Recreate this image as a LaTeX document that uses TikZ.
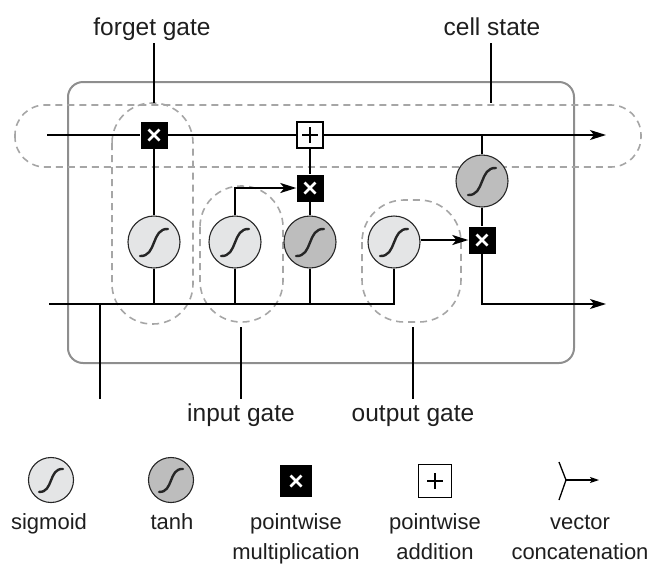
\documentclass[tikz,border=0pt]{standalone}
\usepackage{fontspec}
\setmainfont{Liberation Sans}
\usetikzlibrary{arrows.meta}
\definecolor{sigfill}{HTML}{E4E5E6}
\definecolor{tanhfill}{HTML}{BDBDBD}
\definecolor{dashgray}{HTML}{A6A6A6}
\definecolor{framegray}{HTML}{8E8E8E}
\definecolor{txt}{HTML}{1E1E1E}
\begin{document}
\begin{tikzpicture}[x=1pt,y=-1pt,
  wire/.style={line width=1.6pt, black},
  arr/.style={wire, -{Stealth[length=16pt,width=10pt,inset=4pt]}},
  smallarr/.style={line width=1.3pt, black, -{Stealth[length=9pt,width=6pt,inset=2pt]}},
  capsule/.style={draw=dashgray, line width=1.6pt, dash pattern=on 7pt off 5pt},
  sglyph/.style={path picture={
      \begin{scope}[shift={(path picture bounding box.center)}, x=#1pt, y=#1pt]
        \draw[line width=2.4pt, black!85, line cap=round] (-14,-14) .. controls (3,-15) and (-3,14) .. (14,13);
      \end{scope}}},
  sig/.style={circle, draw=black!85, line width=1.1pt, fill=sigfill, minimum size=52pt, inner sep=0pt, sglyph=1},
  tanhc/.style={sig, fill=tanhfill},
  lsig/.style={sig, minimum size=45pt, sglyph=0.85},
  ltanh/.style={lsig, fill=tanhfill},
  mul/.style={rectangle, fill=black, minimum size=27pt, inner sep=0pt, path picture={
      \draw[white, line width=2.6pt] ([shift={(-5.5pt,-5.5pt)}]path picture bounding box.center) -- ([shift={(5.5pt,5.5pt)}]path picture bounding box.center);
      \draw[white, line width=2.6pt] ([shift={(-5.5pt,5.5pt)}]path picture bounding box.center) -- ([shift={(5.5pt,-5.5pt)}]path picture bounding box.center);}},
  lmul/.style={mul, minimum size=32pt},
  plusbox/.style={rectangle, draw=black, line width=1.4pt, fill=white, minimum size=26pt, inner sep=0pt, path picture={
      \draw[black, line width=1.4pt] ([xshift=-8pt]path picture bounding box.center) -- ([xshift=8pt]path picture bounding box.center);
      \draw[black, line width=1.4pt] ([yshift=-8pt]path picture bounding box.center) -- ([yshift=8pt]path picture bounding box.center);}},
  lplus/.style={plusbox, minimum size=33pt},
  lbl/.style={font=\fontsize{24.5}{28}\selectfont, text=txt, inner sep=0pt, anchor=base},
  leg/.style={font=\fontsize{22}{26}\selectfont, text=txt, inner sep=0pt, anchor=base}
]
\useasboundingbox (0,0) rectangle (651,563);

% frame and dashed groups
\draw[framegray, line width=2pt, rounded corners=15pt] (68,82) rectangle (574,363);
\draw[capsule, rounded corners=30pt] (15,105) rectangle (641,167);
\draw[capsule, rounded corners=40pt] (112,103) rectangle (193,324);
\draw[capsule, rounded corners=41pt] (200,186) rectangle (283,322);
\draw[capsule, rounded corners=42pt] (362,200) rectangle (461,322);

% operations
\node[mul] (fx) at (154,135) {};
\node[plusbox] (pl) at (310,135) {};
\node[mul] (ix) at (310,188) {};
\node[mul] (ox) at (482,240) {};
\node[sig] (fs) at (154,242) {};
\node[sig] (is) at (235,242) {};
\node[tanhc] (it) at (310,242) {};
\node[sig] (os) at (394,242) {};
\node[tanhc] (ot) at (482,181) {};

% free ends
\coordinate (cin) at (47,135);
\coordinate (cout) at (606,135);
\coordinate (ctap) at (482,135);
\coordinate (hin) at (49,304);
\coordinate (hout) at (606,304);
\coordinate (xin) at (100,399);

% connectors
\draw[wire] (cin) -- (fx);
\draw[wire] (fx) -- (pl);
\draw[arr] (pl) -- (cout);
\draw[wire] (ctap) -- (ot);
\draw[wire] (ot) -- (ox);
\draw[wire] (fx) -- (fs);
\draw[wire] (pl) -- (ix);
\draw[wire] (ix) -- (it);
\draw[arr] (is) |- (ix);
\draw[arr] (os.east |- ox) -- (ox);
\draw[arr] (ox) |- (hout);
\draw[wire] (hin) -| (os);
\draw[wire] (fs) -- (fs |- hin);
\draw[wire] (is) -- (is |- hin);
\draw[wire] (it) -- (it |- hin);
\draw[wire] (xin) -- (xin |- hin);

% labels
\node[lbl] (lf) at (152,35) {forget gate};
\node[lbl] (lc) at (492,35.5) {cell state};
\node[lbl] (li) at (241,421) {input gate};
\node[lbl] (lo) at (413,421) {output gate};
\coordinate (lf1) at (154,43); \coordinate (lf2) at (154,103);
\coordinate (lc1) at (491,43); \coordinate (lc2) at (491,103);
\coordinate (li1) at (241,327); \coordinate (li2) at (241,399);
\coordinate (lo1) at (413,327); \coordinate (lo2) at (413,399);
\draw[wire] (lf1) -- (lf2);
\draw[wire] (lc1) -- (lc2);
\draw[wire] (li1) -- (li2);
\draw[wire] (lo1) -- (lo2);

% legend
\node[lsig] (gs) at (51,480) {};
\node[ltanh] (gt) at (171,480) {};
\node[lmul] (gm) at (296,481) {};
\node[lplus] (gp) at (435,481) {};
\coordinate (c1) at (559,462);
\coordinate (cj) at (566,480);
\coordinate (c2) at (559,500);
\coordinate (ce) at (599,480);
\draw[line width=1.3pt] (c1) -- (cj) -- (c2);
\draw[smallarr] (cj) -- (ce);

\node[leg] at (49,529) {sigmoid};
\node[leg] at (172,529) {tanh};
\node[leg] at (296,529) {pointwise};
\node[leg] at (296,559) {multiplication};
\node[leg] at (435,529) {pointwise};
\node[leg] at (435,559) {addition};
\node[leg] at (580,529) {vector};
\node[leg] at (580,559) {concatenation};
\end{tikzpicture}
\end{document}
